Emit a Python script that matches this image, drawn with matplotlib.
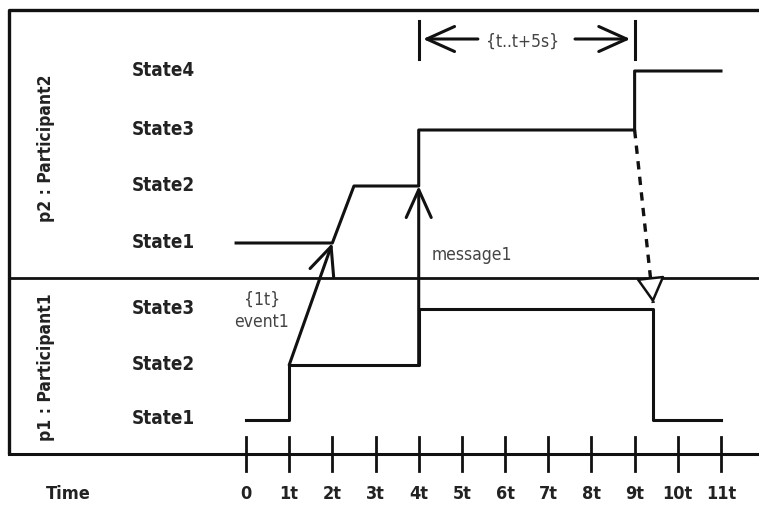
import matplotlib
matplotlib.use("Agg")
import matplotlib.pyplot as plt

# --- data -------------------------------------------------------------
tick_labels = ["0", "1t", "2t", "3t", "4t", "5t", "6t", "7t", "8t", "9t", "10t", "11t"]

p1_states = ["State1", "State2", "State3"]
p2_states = ["State1", "State2", "State3", "State4"]

# state timelines (time in t units, state index)
p1_times = [0, 1, 1, 4, 4, 9.43, 9.43, 11]
p1_levels = [0, 0, 1, 1, 2, 2, 0, 0]
p2_times = [-0.23, 2, 2.5, 4, 4, 9, 9, 11]
p2_levels = [0, 0, 1, 1, 2, 2, 3, 3]

# messages: (from time, participant, state) -> (to time, participant, state)
event1 = ((1, "p1", 1), (2, "p2", 0))
message1 = ((4, "p1", 1), (4, "p2", 1))
reply = ((9, "p2", 2), (9.43, "p1", 2))
constraint = (4, 9)

# --- layout (pixel rows of each state line) --------------------------
ROWS = {"p1": [421, 366, 310], "p2": [244, 187, 131, 72]}


def y_of(part, idx):
    return ROWS[part][idx]


plt.rcParams["font.family"] = ["DejaVu Sans"]
plt.rcParams["font.stretch"] = "condensed"

fig = plt.figure(figsize=(7.59, 5.06), dpi=100)
ax = fig.add_axes([0, 0, 1, 1])
X0, DX = 246, 43.18
ax.set_xlim(-X0 / DX, (759 - X0) / DX)
ax.set_ylim(506, 0)
ax.axis("off")

LW = 2.2
INK = "#111111"
GREY = "#444444"
DARK = "#222222"


def px(x):
    return (x - X0) / DX


# frame
ax.plot([px(9), px(9), px(765)], [455, 11, 11], color=INK, lw=2.4, solid_capstyle="butt")
ax.plot([px(9), px(765)], [455, 455], color=INK, lw=2.2)
ax.plot([px(9), px(765)], [279, 279], color=INK, lw=2.0)

# time ticks
for i, lab in enumerate(tick_labels):
    ax.plot([i, i], [438, 472], color=INK, lw=2.0)
    ax.text(i, 494, lab, ha="center", va="center", fontsize=13, fontweight="bold", color=DARK)
ax.text(px(68), 494, "Time", ha="center", va="center", fontsize=13, fontweight="bold", color=DARK)

# state labels
for part, names in (("p1", p1_states), ("p2", p2_states)):
    for i, nm in enumerate(names):
        ax.text(px(132), y_of(part, i) - 2, nm, ha="left", va="center", fontsize=13.5,
                fontweight="bold", color=DARK)

ax.text(px(46), 148, "p2 : Participant2", rotation=90, ha="center", va="center",
        fontsize=12.5, fontweight="bold", color=DARK)
ax.text(px(46), 367, "p1 : Participant1", rotation=90, ha="center", va="center",
        fontsize=12.5, fontweight="bold", color=DARK)

# state lines
ax.plot(p1_times, [y_of("p1", s) for s in p1_levels], color=INK, lw=LW)
ax.plot(p2_times, [y_of("p2", s) for s in p2_levels], color=INK, lw=LW)

arrow = dict(arrowstyle="->, head_length=1.0, head_width=0.45", color=INK, lw=LW,
             shrinkA=0, shrinkB=0, mutation_scale=20)

for (t0, pa, sa), (t1, pb, sb) in (event1, message1):
    ax.annotate("", xy=(t1, y_of(pb, sb)), xytext=(t0, y_of(pa, sa)), arrowprops=arrow)

ax.text(0.38, 300, "{1t}", ha="center", va="center", fontsize=12.5, color=GREY)
ax.text(0.36, 322, "event1", ha="center", va="center", fontsize=12.5, color=GREY)
ax.text(4.3, 255, "message1", ha="left", va="center", fontsize=12.5, color=GREY)

# dashed reply with hollow triangle head
(t0, pa, sa), (t1, pb, sb) = reply
ya, yb = y_of(pa, sa), y_of(pb, sb) - 6
ax.plot([t0, t1], [ya, yb], color=INK, lw=2.4, ls=(0, (2.5, 2.2)))
frac = (281 - ya) / (yb - ya)
ax.annotate("", xy=(t1, yb), xytext=(t0 + frac * (t1 - t0), 281),
            arrowprops=dict(arrowstyle="-|>, head_length=0.8, head_width=0.45", fc="white",
                            ec=INK, lw=1.8, shrinkA=0, shrinkB=0, mutation_scale=20))

# time constraint
c0, c1 = constraint
for c in constraint:
    ax.plot([c, c], [22, 60], color=INK, lw=LW)
ax.text(6.4, 42, "{t..t+5s}", ha="center", va="center", fontsize=12.5, color=GREY)
ax.annotate("", xy=(c0 + 0.1, 40), xytext=(5.37, 40), arrowprops=arrow)
ax.annotate("", xy=(c1 - 0.1, 40), xytext=(7.62, 40), arrowprops=arrow)

fig.savefig("out.png", dpi=100)
